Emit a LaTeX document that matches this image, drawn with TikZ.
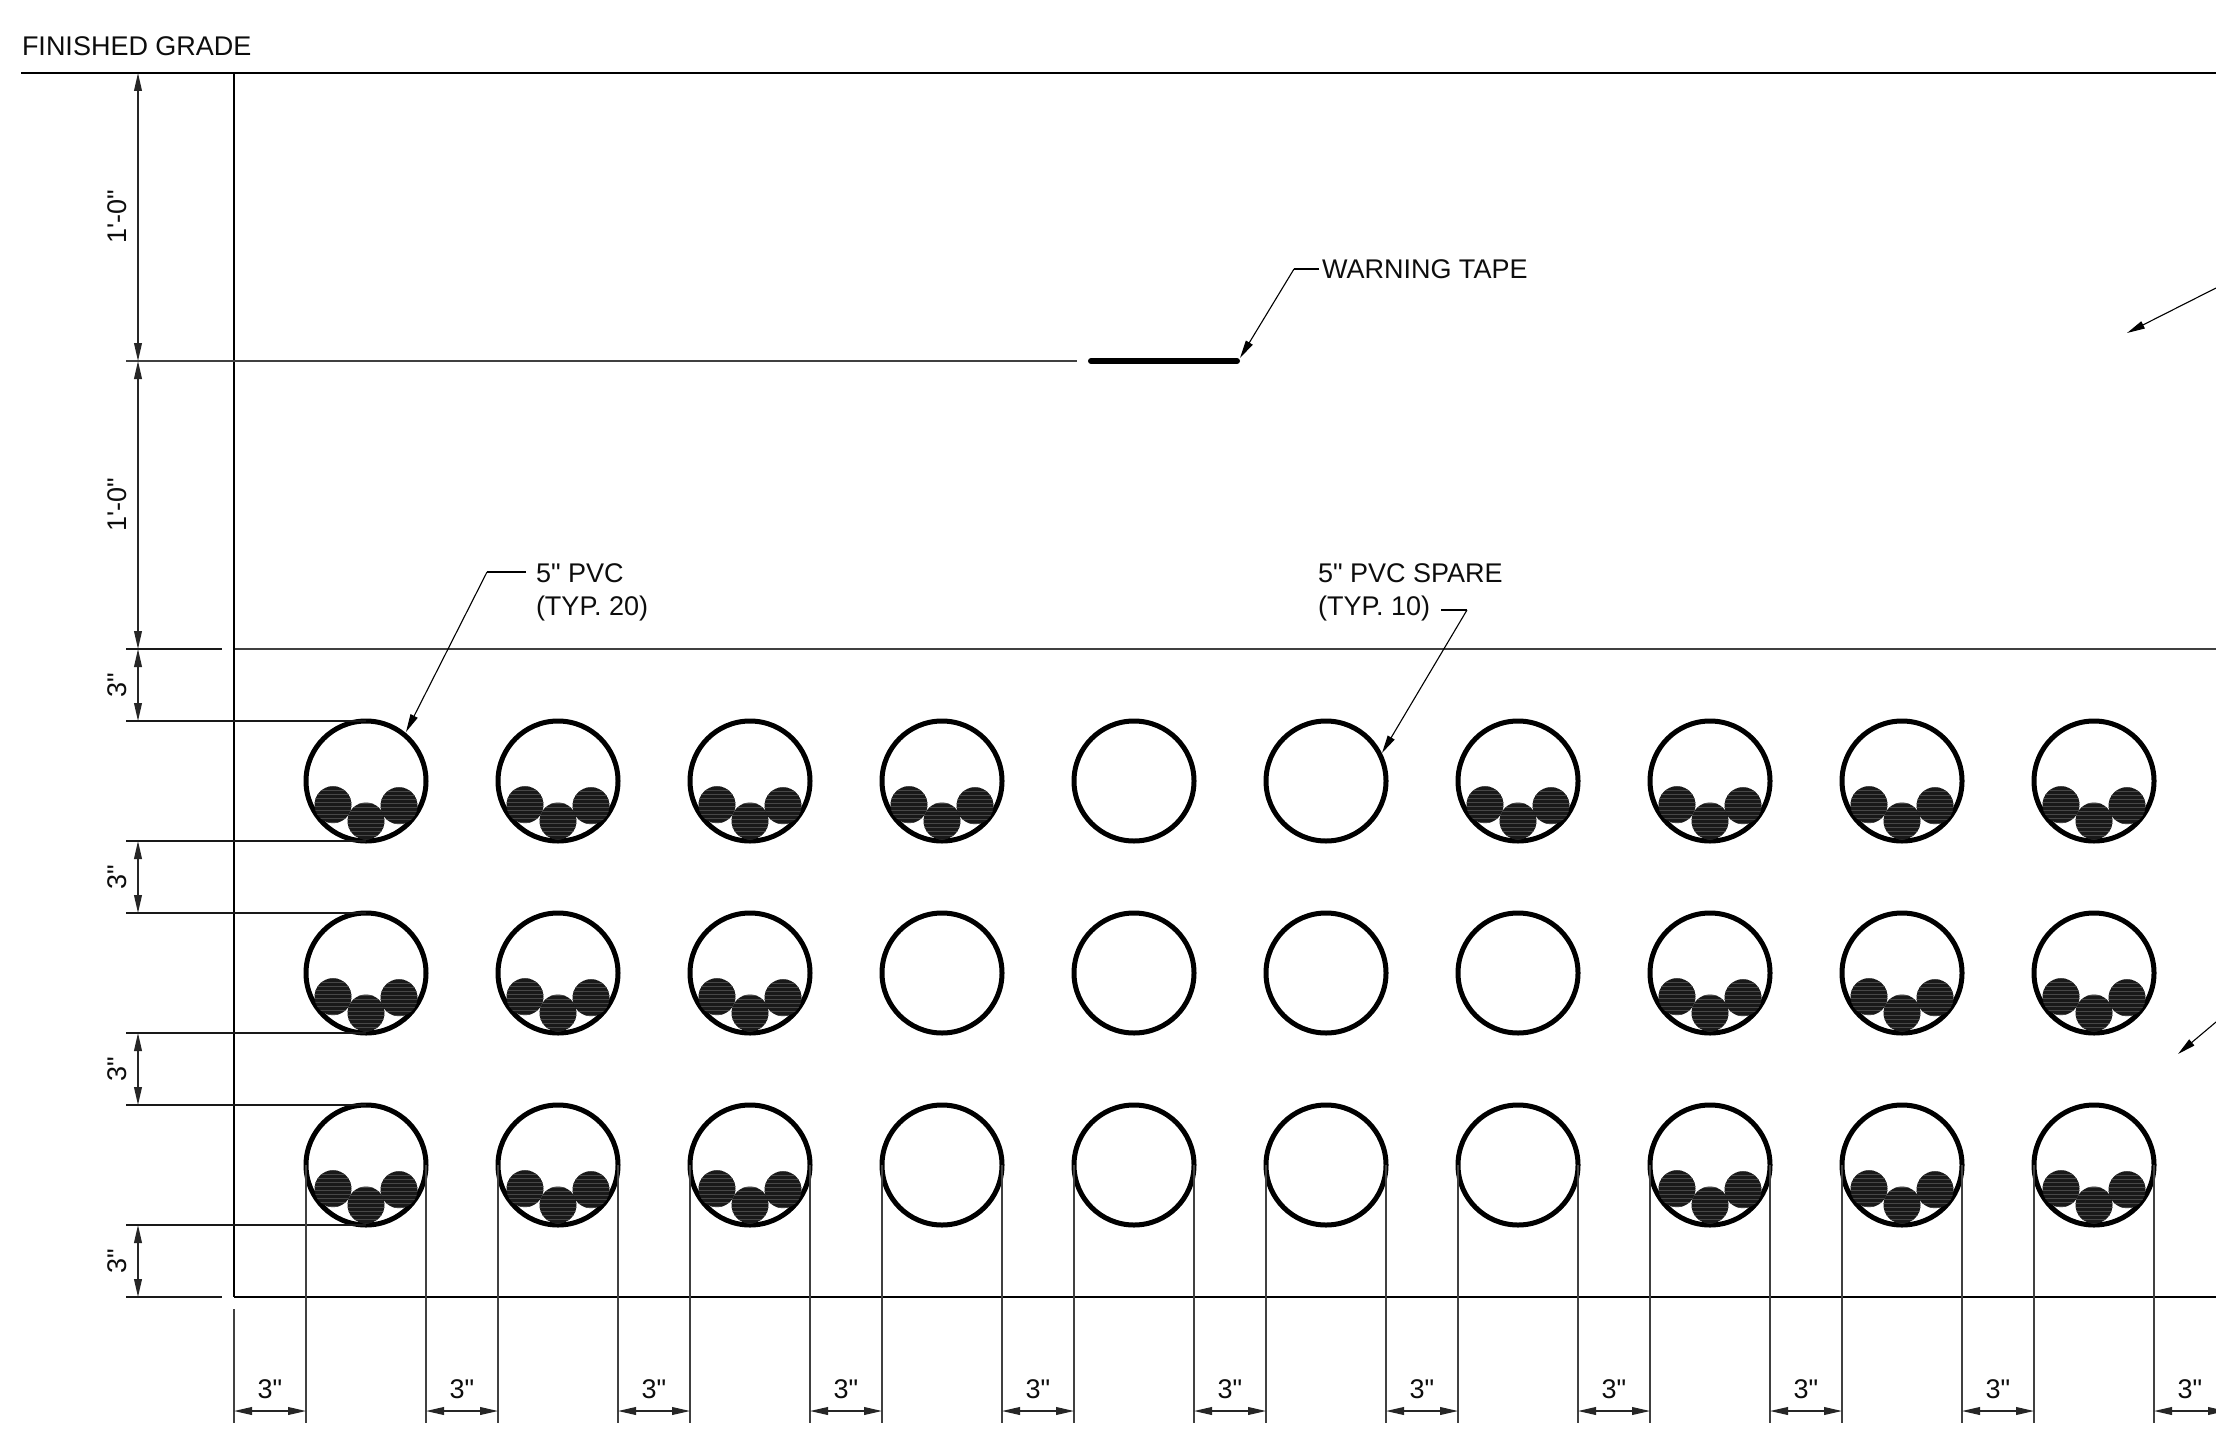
\documentclass[tikz,border=0pt]{standalone}
\usepackage{fontspec}
\setmainfont[Ligatures=TeXOff]{Liberation Sans}
\usetikzlibrary{arrows.meta}
\tikzset{
  x=.5pt,y=-.5pt,
  tipa/.tip={Triangle[length=9pt,width=3.9pt]},
  heavy/.style={line width=1.05pt,draw=black},
  thin line/.style={line width=.6pt,draw=black!75},
  ext/.style={line width=.7pt,draw=black!75},
  extdark/.style={line width=.75pt,draw=black!90},
  dimline/.style={line width=.65pt,draw=black!85,{tipa}-{tipa}},
  leader/.style={line width=.55pt,draw=black},
  leaderarrow/.style={line width=.55pt,draw=black,-{tipa}},
  tape/.style={line width=3pt,draw=black,line cap=round},
  label/.style={inner sep=0pt,outer sep=0pt,font=\fontsize{13.5pt}{15pt}\selectfont,text=black!95},
  dimlabel/.style={label,anchor=center},
  vdimlabel/.style={label,anchor=center,rotate=90},
  pipe/.style={circle,draw=black,line width=2.5pt,minimum size=60pt,inner sep=0pt,outer sep=0pt},
  cables/.pic={
    \foreach \cx/\cy in {-33/23.7,0/40,33/24.7}{
      \begin{scope}
        \clip (\cx,\cy) circle[radius=18.5];
        \fill[black!90] (\cx-20,\cy-20) rectangle (\cx+20,\cy+20);
        \foreach \hy in {-18,-14,...,18}{
          \draw[line width=.4pt,draw=black!72] (\cx-20,\cy+\hy) -- (\cx+20,\cy+\hy);
        }
      \end{scope}
    }
  }
}
\begin{document}
\begin{tikzpicture}
\clip (0,0) rectangle (2216,1450);
\fill[white] (0,0) rectangle (2216,1450);

% reference coordinates
\coordinate (gradeL) at (21,73);
\coordinate (gradeR) at (2216,73);
\coordinate (wall) at (234,73);
\coordinate (wallB) at (234,1297);
\coordinate (floorR) at (2216,1297);
\coordinate (wallLowT) at (234,1309);
\coordinate (wallLowB) at (234,1423);
\coordinate (lx) at (126,0);
\coordinate (dx) at (138,0);
\coordinate (botExt) at (0,1423);
\coordinate (dimY) at (0,1411);
\coordinate (tapeExtL) at (126,361);
\coordinate (tapeExtR) at (1077,361);
\coordinate (tapeL) at (1091,361);
\coordinate (tapeR) at (1237,361);
\coordinate (tapeTip) at (1240,358);
\coordinate (topExtL) at (126,649);
\coordinate (topExtM) at (222,649);
\coordinate (topLineL) at (235,649);
\coordinate (topLineR) at (2216,649);
\coordinate (botExtL) at (126,1297);
\coordinate (botExtM) at (222,1297);
\coordinate (rightEnd) at (2226,1411);
\coordinate (pvcTip) at (406,732);
\coordinate (spTip) at (1382,753);

% pipes
\foreach \rw/\yc in {1/781,2/973,3/1165}{
  \foreach \k in {0,...,9}{
    \pgfmathsetmacro{\xc}{366+192*\k}
    \node[pipe] (p-\rw-\k) at (\xc,\yc) {};
  }
}
\foreach \k in {0,1,2,3,6,7,8,9}{\pic at (p-1-\k.center) {cables};}
\foreach \k in {0,1,2,7,8,9}{\pic at (p-2-\k.center) {cables};\pic at (p-3-\k.center) {cables};}

% finished grade and trench
\draw[heavy] (gradeL) -- (gradeR);
\draw[heavy] (wall) -- (wallB);
\draw[heavy] (wallB) -- (floorR);
\draw[ext] (wallLowT) -- (wallLowB);

% horizontal lines
\draw[thin line] (tapeExtL) -- (tapeExtR);
\draw[tape] (tapeL) -- (tapeR);
\draw[extdark] (topExtL) -- (topExtM);
\draw[thin line] (topLineL) -- (topLineR);
\draw[extdark] (botExtL) -- (botExtM);

% horizontal extension lines to the pipes
\foreach \rw in {1,2,3}{
  \draw[extdark] (lx |- p-\rw-0.north) -- (p-\rw-0.north);
  \draw[extdark] (lx |- p-\rw-0.south) -- (p-\rw-0.south);
}
% vertical extension lines from the bottom row
\foreach \k in {0,...,9}{
  \draw[ext] (p-3-\k.west) -- (p-3-\k.west |- botExt);
  \draw[ext] (p-3-\k.east) -- (p-3-\k.east |- botExt);
}

% vertical dimensions
\draw[dimline] (dx |- gradeL) -- (dx |- tapeExtL);
\draw[dimline] (dx |- tapeExtL) -- (dx |- topExtL);
\draw[dimline] (dx |- topExtL) -- (dx |- p-1-0.north);
\draw[dimline] (dx |- p-1-0.south) -- (dx |- p-2-0.north);
\draw[dimline] (dx |- p-2-0.south) -- (dx |- p-3-0.north);
\draw[dimline] (dx |- p-3-0.south) -- (dx |- botExtL);

\node[vdimlabel] (v1) at (117,217) {1'-0"};
\node[vdimlabel] (v2) at (117,505) {1'-0"};
\node[vdimlabel] (v3) at (117,685) {3"};
\node[vdimlabel] (v4) at (117,877) {3"};
\node[vdimlabel] (v5) at (117,1069) {3"};
\node[vdimlabel] (v6) at (117,1261) {3"};

% bottom dimensions
\draw[dimline] (wallB |- dimY) -- (p-3-0.west |- dimY);
\node[dimlabel] (h0) at (270,1389) {3"};
\foreach \k/\nx in {0/1,1/2,2/3,3/4,4/5,5/6,6/7,7/8,8/9}{
  \draw[dimline] (p-3-\k.east |- dimY) -- (p-3-\nx.west |- dimY);
  \pgfmathsetmacro{\tx}{462+192*\k}
  \node[dimlabel] (h\nx) at (\tx,1389) {3"};
}
\draw[dimline] (p-3-9.east |- dimY) -- (rightEnd);
\node[dimlabel] (h10) at (2190,1389) {3"};

% labels and leaders
\node[label,anchor=base west] (grade) at (22,56) {FINISHED GRADE};
\node[label,anchor=base west] (warn) at (1322,278.5) {WARNING TAPE};
\node[label,anchor=base west] (pvcA) at (536,582) {5" PVC};
\node[label,anchor=base west] (pvcB) at (536,615) {(TYP. 20)};
\node[label,anchor=base west] (spA) at (1318,582) {5" PVC SPARE};
\node[label,anchor=base west] (spB) at (1318,615) {(TYP. 10)};

\coordinate (warnS) at (1319,269);
\coordinate (warnE) at (1294,269);
\draw[leader] (warnS) -- (warnE);
\draw[leaderarrow] (warnE) -- (tapeTip);

\coordinate (pvcS) at (526,572);
\coordinate (pvcE) at (487,572);
\draw[leader] (pvcS) -- (pvcE);
\draw[leaderarrow] (pvcE) -- (pvcTip);

\coordinate (spS) at (1441,610);
\coordinate (spE) at (1467,610);
\draw[leader] (spS) -- (spE);
\draw[leaderarrow] (spE) -- (spTip);

% leaders entering from the right edge
\coordinate (rA) at (2216,288);
\coordinate (rAt) at (2127,333);
\coordinate (rB) at (2216,1022);
\coordinate (rBt) at (2178,1054);
\draw[leaderarrow] (rA) -- (rAt);
\draw[leaderarrow] (rB) -- (rBt);
\end{tikzpicture}
\end{document}
